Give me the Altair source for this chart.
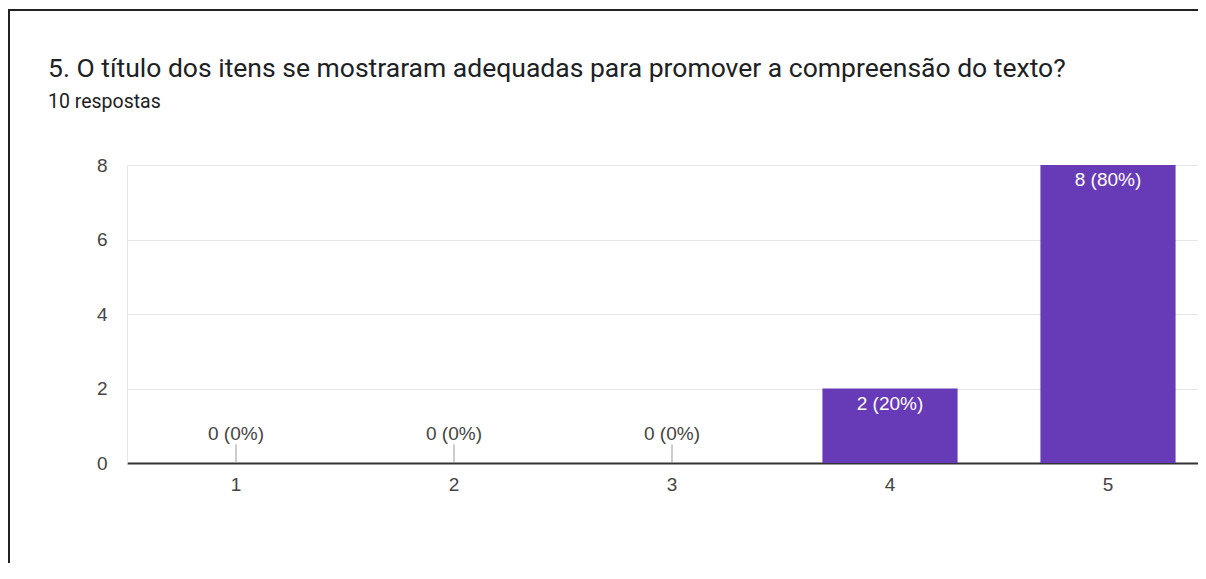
import altair as alt
import pandas as pd

categories = ["1", "2", "3", "4", "5"]
counts = [0, 0, 0, 2, 8]
labels = ["0 (0%)", "0 (0%)", "0 (0%)", "2 (20%)", "8 (80%)"]
y_ticks = [0, 1, 2, 3, 4, 5, 6, 7, 8]

title_text = "5. O título dos itens se mostraram adequadas para promover a compreensão do texto?"
subtitle_text = "10 respostas"

df = pd.DataFrame({"cat": categories, "count": counts, "label": labels})

W, H = 1071, 298
FONT = "Roboto"
LFONT = "Liberation Sans"

x_enc = alt.X(
    "cat:N",
    sort=categories,
    scale=alt.Scale(range=[0, 1090], paddingInner=0.38, paddingOuter=0.19),
    axis=alt.Axis(
        title=None, labelAngle=0, ticks=False, domainColor="#333333", domainWidth=2,
        labelFont=LFONT, labelFontSize=19, labelColor="#444444", labelPadding=12,
        grid=False,
    ),
)
y_scale = alt.Scale(domain=[0, 8], nice=False)

base = alt.Chart(df)

bars = base.mark_bar(color="#673ab7").encode(
    x=x_enc,
    y=alt.Y(
        "count:Q",
        scale=y_scale,
        axis=alt.Axis(
            title=None, values=y_ticks, ticks=False,
            labelExpr="datum.value % 2 == 0 ? datum.label : ''",
            labelFont=LFONT, labelFontSize=19, labelColor="#444444", labelPadding=20,
            domainColor="#e6e6e6", domainWidth=1,
            gridColor={"condition": {"test": "datum.value % 2 == 0", "value": "#e6e6e6"}, "value": "#f2f2f2"},
            gridWidth=1,
        ),
    ),
)

inside = base.transform_filter("datum.count > 0").mark_text(
    color="white", font=LFONT, fontSize=19, baseline="alphabetic", dy=21
).encode(x=alt.X("cat:N", sort=categories), y=alt.Y("count:Q", scale=y_scale), text="label:N")

zero_text = base.transform_filter("datum.count == 0").mark_text(
    color="#444444", font=LFONT, fontSize=19, baseline="alphabetic", dy=-23
).encode(x=alt.X("cat:N", sort=categories), y=alt.Y("count:Q", scale=y_scale), text="label:N")

zero_tick = base.transform_filter("datum.count == 0").mark_rule(
    color="#999999", strokeWidth=1
).encode(x=alt.X("cat:N", sort=categories), y=alt.Y("count:Q", scale=y_scale), y2=alt.datum(0.5))

one = pd.DataFrame({"a": [0]})

frame = alt.Chart(one).mark_rect(
    fill=None, stroke="#222222", strokeWidth=2
).encode(x=alt.value(-118), y=alt.value(-155), x2=alt.value(1300), y2=alt.value(600))

title = alt.Chart(one).mark_text(
    text=title_text, font=FONT, fontSize=26.5, color="#202124", align="left", baseline="alphabetic"
).encode(x=alt.value(-79), y=alt.value(-88))

subtitle = alt.Chart(one).mark_text(
    text=subtitle_text, font=FONT, fontSize=19.5, color="#202124", align="left", baseline="alphabetic"
).encode(x=alt.value(-79), y=alt.value(-57))

chart = (
    alt.layer(frame, bars, zero_tick, zero_text, inside, title, subtitle)
    .properties(
        width=W,
        height=H,
        autosize=alt.AutoSizeParams(type="none"),
        padding={"left": 119, "top": 157, "right": 0, "bottom": 100},
    )
    .configure_view(stroke=None)
)

chart.save("out.html", embed_options={"renderer": "svg", "actions": False})
